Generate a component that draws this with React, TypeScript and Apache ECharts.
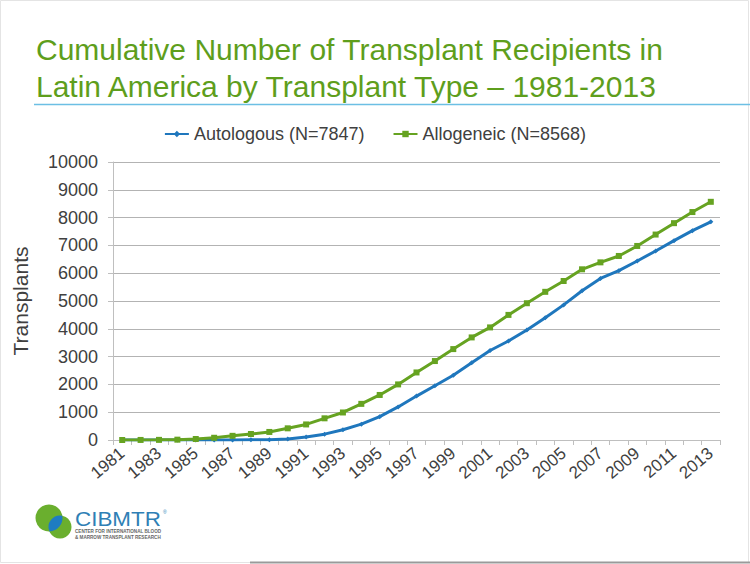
import React, { useEffect, useRef } from "react";
import * as echarts from "echarts";

const years = [
  "1981", "1982", "1983", "1984", "1985", "1986", "1987", "1988", "1989", "1990",
  "1991", "1992", "1993", "1994", "1995", "1996", "1997", "1998", "1999", "2000",
  "2001", "2002", "2003", "2004", "2005", "2006", "2007", "2008", "2009", "2010",
  "2011", "2012", "2013",
];
const autologous = [
  0, 0, 0, 0, 0, 0, 0, 5, 10, 40,
  110, 210, 370, 570, 840, 1190, 1580, 1950, 2330, 2780,
  3220, 3560, 3960, 4400, 4860, 5370, 5810, 6090, 6440, 6800,
  7170, 7530, 7847,
];
const allogeneic = [
  0, 2, 5, 12, 35, 80, 150, 215, 290, 420,
  560, 780, 990, 1300, 1620, 2000, 2430, 2840, 3270, 3690,
  4050, 4500, 4920, 5330, 5720, 6140, 6390, 6620, 6980, 7390,
  7800, 8200, 8568,
];
const seriesNames = ["Autologous (N=7847)", "Allogeneic (N=8568)"];
const titleLines = [
  "Cumulative Number of Transplant Recipients in",
  "Latin America by Transplant Type \u2013 1981-2013",
];

function lensPath(ax: number, ay: number, ra: number, bx: number, by: number, rb: number) {
  const dx = bx - ax, dy = by - ay;
  const d = Math.sqrt(dx * dx + dy * dy);
  const a = (d * d + ra * ra - rb * rb) / (2 * d);
  const h = Math.sqrt(ra * ra - a * a);
  const ux = dx / d, uy = dy / d;
  const px = ax + a * ux, py = ay + a * uy;
  const p1x = px - h * uy, p1y = py + h * ux;
  const p2x = px + h * uy, p2y = py - h * ux;
  return `M${p1x} ${p1y} A${ra} ${ra} 0 0 0 ${p2x} ${p2y} A${rb} ${rb} 0 0 0 ${p1x} ${p1y} Z`;
}

export default function App() {
  const ref = useRef<HTMLDivElement>(null);
  useEffect(() => {
    if (!ref.current) return;
    const A = { x: 49, y: 518, r: 13.5 };
    const B = { x: 60, y: 527, r: 11.5 };
    try {
      echarts.graphic.registerShape(
        "lens",
        echarts.graphic.extendPath(lensPath(A.x, A.y, A.r, B.x, B.y, B.r), {})
      );
    } catch (e) {}
    const chart = echarts.init(ref.current, undefined, { renderer: "svg" });
    const font = "Liberation Sans, Arial, sans-serif";
    const blue = "#1f77bd";
    const green = "#66a321";
    chart.setOption({
      animation: false,
      backgroundColor: "#ffffff",
      textStyle: { fontFamily: font },
      graphic: [
        { type: "rect", shape: { x: 0.5, y: 0.5, width: 748, height: 562 }, style: { fill: "none", stroke: "#e4e4e4", lineWidth: 1 } },
        { type: "line", shape: { x1: 250, y1: 562.5, x2: 750, y2: 562.5 }, style: { stroke: "#9a9a9a", lineWidth: 2 } },
        { type: "line", shape: { x1: 34, y1: 104.5, x2: 750, y2: 104.5 }, style: { stroke: "#6cbfe4", lineWidth: 1.5 } },
        { type: "text", left: 36, top: 34, style: { text: titleLines[0], font: `30px ${font}`, fill: "#5e9e1c" } },
        { type: "text", left: 36, top: 71, style: { text: titleLines[1], font: `30px ${font}`, fill: "#5e9e1c" } },
        { type: "circle", shape: { cx: A.x, cy: A.y, r: A.r }, style: { fill: "#6aaf2e" } },
        { type: "circle", shape: { cx: B.x, cy: B.y, r: B.r }, style: { fill: "#6aaf2e" } },
        { type: "lens", x: 0, y: 0, style: { fill: "#1e7cc2" } },
        { type: "text", x: 75, y: 509, scaleX: 1.12, style: { text: "CIBMTR", font: `20px ${font}`, fill: "#2f7fb5" } },
        { type: "text", x: 163, y: 509, style: { text: "\u00ae", font: `5px ${font}`, fill: "#2f7fb5" } },
        { type: "text", x: 75, y: 529, style: { text: "CENTER FOR INTERNATIONAL BLOOD", font: `bold 4.6px ${font}`, fill: "#666666" } },
        { type: "text", x: 75, y: 535, style: { text: "& MARROW TRANSPLANT RESEARCH", font: `bold 4.6px ${font}`, fill: "#666666" } },
      ],
      legend: {
        top: 120,
        left: "center",
        itemWidth: 24,
        itemHeight: 8,
        itemGap: 28,
        textStyle: { fontSize: 18, color: "#404040", fontFamily: font },
        data: seriesNames,
      },
      grid: { left: 113, right: 30, top: 162, bottom: 124, containLabel: false },
      xAxis: {
        type: "category",
        data: years,
        boundaryGap: true,
        axisLine: { lineStyle: { color: "#bfbfbf", width: 1 } },
        axisTick: { show: true, interval: 0, alignWithLabel: false, length: 5, lineStyle: { color: "#bfbfbf" } },
        axisLabel: { interval: 1, rotate: 40, fontSize: 17, color: "#404040", margin: 11, fontFamily: font },
        splitLine: { show: false },
      },
      yAxis: {
        type: "value",
        min: 0,
        max: 10000,
        interval: 1000,
        name: "Transplants",
        nameLocation: "middle",
        nameRotate: 90,
        nameGap: 82,
        nameTextStyle: { fontSize: 21, color: "#404040", fontFamily: font },
        axisLine: { show: true, lineStyle: { color: "#bfbfbf", width: 1 } },
        axisTick: { show: true, length: 5, lineStyle: { color: "#bfbfbf" } },
        axisLabel: { fontSize: 18, color: "#404040", margin: 15, fontFamily: font, formatter: (v: number) => String(v) },
        splitLine: { lineStyle: { color: "#b3b3b3", width: 1 } },
      },
      series: [
        {
          name: seriesNames[0],
          type: "line",
          data: autologous,
          symbol: "diamond",
          symbolSize: 5,
          itemStyle: { color: blue },
          lineStyle: { color: blue, width: 3 },
        },
        {
          name: seriesNames[1],
          type: "line",
          data: allogeneic,
          symbol: "rect",
          symbolSize: 6,
          itemStyle: { color: green },
          lineStyle: { color: green, width: 3 },
        },
      ],
    });
    return () => chart.dispose();
  }, []);
  return (
    <div
      ref={ref}
      style={{ position: "fixed", left: 0, top: 0, width: 750, height: 564, background: "#fff" }}
    />
  );
}
